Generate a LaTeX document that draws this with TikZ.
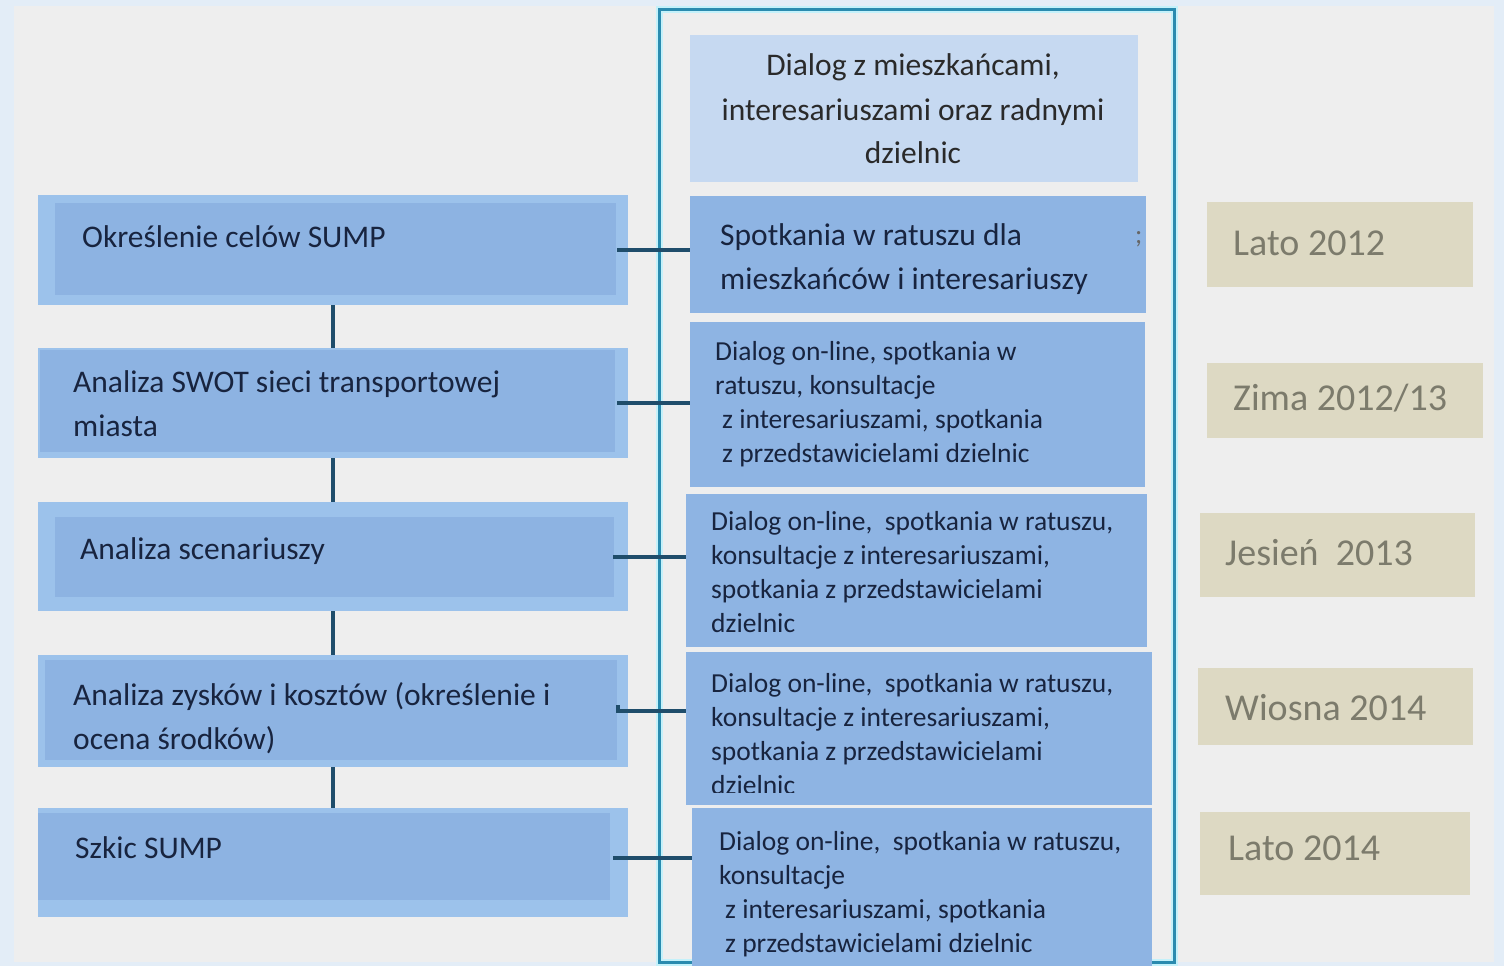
\documentclass[tikz,border=0pt]{standalone}
\usepackage{fontspec}
\setmainfont{Carlito}
\usetikzlibrary{calc}

\definecolor{pageblue}{HTML}{E3EDF7}
\definecolor{panel}{HTML}{EEEEEE}
\definecolor{stepout}{HTML}{9CC2EB}
\definecolor{stepin}{HTML}{8DB3E2}
\definecolor{talk}{HTML}{8EB4E3}
\definecolor{talklight}{HTML}{C6D9F1}
\definecolor{season}{HTML}{DDD9C3}
\definecolor{frameteal}{HTML}{2A8BAF}
\definecolor{framehalo}{HTML}{C4F1FA}
\definecolor{linkcol}{HTML}{1F4D6B}
\definecolor{navytext}{HTML}{18243F}
\definecolor{greytext}{HTML}{2A2A2A}
\definecolor{seasontext}{HTML}{7C7B6C}

\newcommand{\ml}[1]{\begin{tabular}[t]{@{}l@{}}#1\end{tabular}}
\newcommand{\mc}[1]{\begin{tabular}[t]{@{}c@{}}#1\end{tabular}}
\newcommand{\stepfont}{\fontsize{31.5}{44}\selectfont}
\newcommand{\bigtalkfont}{\fontsize{31.5}{44}\selectfont}
\newcommand{\talkfont}{\fontsize{27.5}{34}\selectfont}
\newcommand{\seasonfont}{\fontsize{38}{44}\selectfont}

\begin{document}
\begin{tikzpicture}[x=1pt,y=-1pt,
  area/.style={rectangle, anchor=north west, inner sep=0pt, outer sep=0pt, draw=none},
  stepbox/.style={area, fill=stepout},
  stepcore/.style={area, fill=stepin},
  talkbox/.style={area, fill=talk},
  seasonbox/.style={area, fill=season},
  lbl/.style={anchor=base west, inner sep=0pt, text=navytext},
  seasonlbl/.style={anchor=base west, inner sep=0pt, text=seasontext, font=\seasonfont},
  link/.style={draw=linkcol, line width=4pt}]

% page and panel
\useasboundingbox (0,0) rectangle (1504,966);
\fill[pageblue] (0,0) rectangle (1504,966);
\fill[panel] (14,6) rectangle (1494,962);

% frame around the dialogue column
\node[area, minimum width=515pt, minimum height=952pt, draw=frameteal, line width=3pt,
      preaction={draw=framehalo, line width=7pt}] (frame) at (659,10) {};

% steps of the plan (left column)
\node[stepbox, minimum width=590pt, minimum height=110pt] (L1) at (38,195) {};
\node[stepcore, minimum width=561pt, minimum height=92pt] (L1c) at (55,203) {};
\node[stepbox, minimum width=590pt, minimum height=110pt] (L2) at (38,348) {};
\node[stepcore, minimum width=575pt, minimum height=102pt] (L2c) at (40,350) {};
\node[stepbox, minimum width=590pt, minimum height=109pt] (L3) at (38,502) {};
\node[stepcore, minimum width=559pt, minimum height=80pt] (L3c) at (55,517) {};
\node[stepbox, minimum width=590pt, minimum height=112pt] (L4) at (38,655) {};
\node[stepcore, minimum width=572pt, minimum height=100pt] (L4c) at (45,660) {};
\node[stepbox, minimum width=590pt, minimum height=109pt] (L5) at (38,808) {};
\node[stepcore, minimum width=572pt, minimum height=87pt] (L5c) at (38,813) {};

\node[lbl, font=\stepfont] (tL1) at (82,247) {Określenie celów SUMP};
\node[lbl, font=\stepfont] (tL2) at (73,392) {\ml{Analiza SWOT sieci transportowej\\miasta}};
\node[lbl, font=\stepfont] (tL3) at (80,559) {Analiza scenariuszy};
\node[lbl, font=\stepfont] (tL4) at (73,705) {\ml{Analiza zysków i kosztów (określenie i\\ocena środków)}};
\node[lbl, font=\stepfont] (tL5) at (75,858) {Szkic SUMP};

% dialogue column
\node[area, fill=talklight, minimum width=448pt, minimum height=147pt] (M0) at (690,35) {};
\node[talkbox, minimum width=456pt, minimum height=117pt] (M1) at (690,196) {};
\node[talkbox, minimum width=455pt, minimum height=165pt] (M2) at (690,322) {};
\node[talkbox, minimum width=461pt, minimum height=153pt] (M3) at (686,494) {};
\node[talkbox, minimum width=466pt, minimum height=153pt] (M4) at (686,652) {};
\node[talkbox, minimum width=460pt, minimum height=158pt] (M5) at (692,808) {};

\node[anchor=base, inner sep=0pt, text=greytext, font=\bigtalkfont] (tM0) at (913,76)
  {\mc{Dialog z mieszkańcami,\\interesariuszami oraz radnymi\\dzielnic}};
\node[lbl, font=\bigtalkfont] (tM1) at (720,245)
  {\ml{Spotkania w ratuszu dla\\mieszkańców i interesariuszy}};
\node[anchor=base west, inner sep=0pt, text=black!60, font=\fontsize{27}{30}\selectfont] (semi) at (1135,243) {;};
\node[lbl, font=\talkfont] (tM2) at (715,360)
  {\ml{Dialog on-line, spotkania w\\ratuszu, konsultacje\\\hspace{7pt}z interesariuszami, spotkania\\\hspace{7pt}z przedstawicielami dzielnic}};
\node[lbl, font=\talkfont] (tM3) at (711,530)
  {\ml{Dialog on-line,~ spotkania w ratuszu,\\konsultacje z interesariuszami,\\spotkania z przedstawicielami\\dzielnic}};
\begin{scope}
  \clip (M4.north west) rectangle ([yshift=13pt]M4.south east);
  \node[lbl, font=\talkfont] (tM4) at (711,692)
    {\ml{Dialog on-line,~ spotkania w ratuszu,\\konsultacje z interesariuszami,\\spotkania z przedstawicielami\\dzielnic}};
\end{scope}
\node[lbl, font=\talkfont] (tM5) at (719,850)
  {\ml{Dialog on-line,~ spotkania w ratuszu,\\konsultacje\\\hspace{6pt}z interesariuszami, spotkania\\\hspace{6pt}z przedstawicielami dzielnic}};

% seasons (right column)
\node[seasonbox, minimum width=266pt, minimum height=85pt] (R1) at (1207,202) {};
\node[seasonbox, minimum width=276pt, minimum height=75pt] (R2) at (1207,363) {};
\node[seasonbox, minimum width=275pt, minimum height=84pt] (R3) at (1200,513) {};
\node[seasonbox, minimum width=275pt, minimum height=77pt] (R4) at (1198,668) {};
\node[seasonbox, minimum width=270pt, minimum height=83pt] (R5) at (1200,812) {};
\node[seasonlbl] (tR1) at (1233,255) {Lato 2012};
\node[seasonlbl] (tR2) at (1233,410) {Zima 2012/13};
\node[seasonlbl] (tR3) at (1225,565) {Jesień~ 2013};
\node[seasonlbl] (tR4) at (1225,720) {Wiosna 2014};
\node[seasonlbl] (tR5) at (1228,860) {Lato 2014};

% links between the steps
\draw[link] (L1.south) -- (L2.north);
\draw[link] (L2.south) -- (L3.north);
\draw[link] (L3.south) -- (L4.north);
\draw[link] (L4.south) -- (L5.north);

% links from each step to its dialogue
\draw[link] ([xshift=-11pt]L1.east) -- (L1.east -| M1.west);
\draw[link] ([xshift=-11pt]L2.east) -- (L2.east -| M2.west);
\draw[link] ([xshift=-15pt]L3.east) -- (L3.east -| M3.west);
\draw[link] ([xshift=-10pt,yshift=6pt]L4.east) -- ([xshift=-10pt]L4.east) -- (L4.east -| M4.west);
\draw[link] ([xshift=-15pt,yshift=5pt]L5.east) -- ([yshift=5pt]L5.east -| M5.west);
\end{tikzpicture}
\end{document}
